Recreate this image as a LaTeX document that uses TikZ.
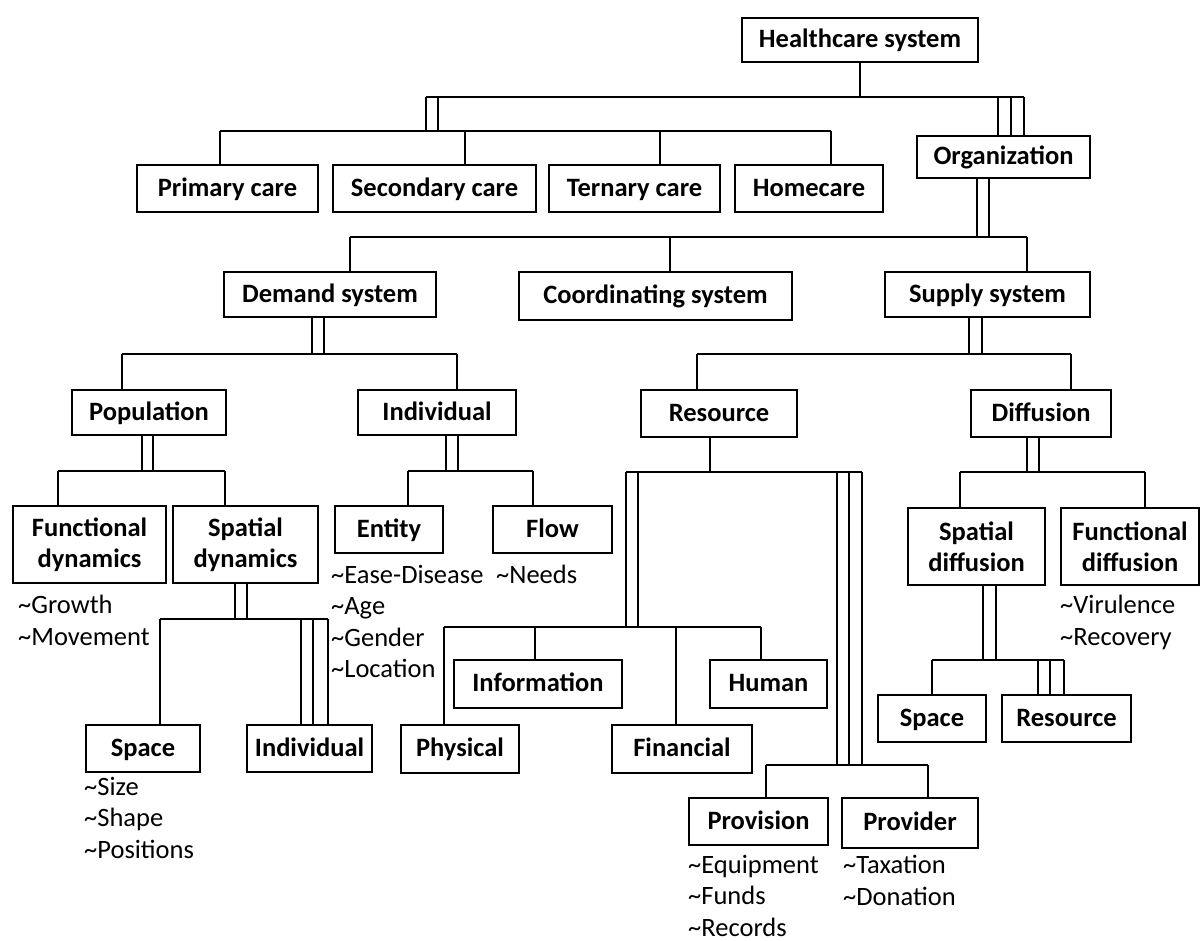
\documentclass[tikz,border=0pt]{standalone}
\usepackage{fontspec}
\setmainfont{Carlito}
\begin{document}
\begin{tikzpicture}[x=1pt,y=-1pt,
  box/.style={draw, line width=2pt, font=\fontsize{26.5}{31}\selectfont\bfseries, align=center, inner sep=0pt},
  one/.style={text height=18pt, text depth=3pt},
  conn/.style={line width=1.3pt},
  lst/.style={font=\fontsize{26.5}{31.5}\selectfont, align=left, anchor=north west, inner sep=0pt}]
\newcommand\bx[6]{\node[box,one,minimum width=#4pt,minimum height=#5pt] (#1) at (#2,#3) {#6};}
\newcommand\bxx[6]{\node[box,minimum width=#4pt,minimum height=#5pt] (#1) at (#2,#3) {#6};}
\useasboundingbox (0,0) rectangle (1204,940);
% boxes
\bx{hc}{860}{40}{236}{44}{Healthcare system}
\bx{prim}{227.5}{188.5}{181}{47}{Primary care}
\bx{sec}{434.5}{188.5}{203}{47}{Secondary care}
\bx{ter}{634.5}{188.5}{171}{47}{Ternary care}
\bx{home}{809}{188.5}{148}{47}{Homecare}
\bx{org}{1003.5}{157}{173}{42}{Organization}
\bx{dem}{330}{294.5}{212}{45}{Demand system}
\bx{coord}{655.5}{296}{273}{48}{Coordinating system}
\bx{sup}{987.5}{294.5}{205}{45}{Supply system}
\bx{pop}{149}{412.5}{154}{45}{Population}
\bx{ind}{437}{412.5}{158}{45}{Individual}
\bx{res}{719}{413.5}{156}{47}{Resource}
\bx{dif}{1041}{413.5}{140}{47}{Diffusion}
\bxx{fdyn}{89.5}{544.5}{153}{77}{Functional\\dynamics}
\bxx{sdyn}{245.5}{544.5}{145}{77}{Spatial\\dynamics}
\bx{ent}{389}{529.5}{108}{47}{Entity}
\bx{flow}{552.5}{529.5}{119}{47}{Flow}
\bxx{sdif}{976.5}{546.5}{137}{77}{Spatial\\diffusion}
\bxx{fdif}{1130}{546.5}{138}{77}{Functional\\diffusion}
\bx{info}{538}{684}{168}{48}{Information}
\bx{hum}{768.5}{684}{117}{48}{Human}
\bx{phys}{460}{749}{118}{48}{Physical}
\bx{fin}{682}{749}{140}{48}{Financial}
\bx{spL}{143}{748.5}{114}{47}{Space}
\bx{indL}{309.5}{748.5}{125}{47}{Individual}
\bx{spR}{932}{718.5}{108}{47}{Space}
\bx{resR}{1066.5}{718.5}{129}{47}{Resource}
\bx{prov}{758.5}{821.5}{139}{47}{Provision}
\bx{provr}{910}{823}{136}{50}{Provider}
% attribute lists
\node[lst] (fdynL) at (18,595) {\textasciitilde Growth\\\textasciitilde Movement};
\node[lst] (entL) at (331,565) {\textasciitilde Ease-Disease\\\textasciitilde Age\\\textasciitilde Gender\\\textasciitilde Location};
\node[lst] (flowL) at (496,565) {\textasciitilde Needs};
\node[lst] (fdifL) at (1060,595) {\textasciitilde Virulence\\\textasciitilde Recovery};
\node[lst] (spLL) at (84,777) {\textasciitilde Size\\\textasciitilde Shape\\\textasciitilde Positions};
\node[lst] (provL) at (688,855) {\textasciitilde Equipment\\\textasciitilde Funds\\\textasciitilde Records};
\node[lst] (provrL) at (843,855) {\textasciitilde Taxation\\\textasciitilde Donation};
% connectors
\begin{scope}[conn]
% healthcare
\coordinate (hcJ) at (860,97);
\coordinate (t1) at (426,97); \coordinate (t2) at (1024,97);
\draw (hc.south) -- (hcJ);
\draw (t1) -- (t2);
\foreach \x in {426,438} \draw (\x,97) -- (\x,131);
\foreach \x in {998,1011,1024} \draw (\x,97) -- (\x,97 |- org.north);
\coordinate (b1) at (220,131); \coordinate (b2) at (831,131);
\draw (b1) -- (b2);
\draw (b1) -- (b1 |- prim.north);
\draw (465,131) -- (465,131 |- sec.north);
\draw (660,131) -- (660,131 |- ter.north);
\draw (b2) -- (b2 |- home.north);
% organization
\foreach \x in {977,989} \draw (\x,237 |- org.south) -- (\x,237);
\coordinate (o1) at (350,237); \coordinate (o2) at (1027,237);
\draw (o1) -- (o2);
\draw (o1) -- (o1 |- dem.north);
\draw (670,237) -- (670,237 |- coord.north);
\draw (o2) -- (o2 |- sup.north);
% demand
\foreach \x in {312,324} \draw (\x,354 |- dem.south) -- (\x,354);
\coordinate (d1) at (122,354); \coordinate (d2) at (457,354);
\draw (d1) -- (d2);
\draw (d1) -- (d1 |- pop.north);
\draw (d2) -- (d2 |- ind.north);
% supply
\foreach \x in {969,982} \draw (\x,354 |- sup.south) -- (\x,354);
\coordinate (s1) at (697,354); \coordinate (s2) at (1071,354);
\draw (s1) -- (s2);
\draw (s1) -- (s1 |- res.north);
\draw (s2) -- (s2 |- dif.north);
% population
\foreach \x in {142,153} \draw (\x,471 |- pop.south) -- (\x,471);
\coordinate (p1) at (58,471); \coordinate (p2) at (225,471);
\draw (p1) -- (p2);
\draw (p1) -- (p1 |- fdyn.north);
\draw (p2) -- (p2 |- sdyn.north);
% individual
\foreach \x in {446,458} \draw (\x,471 |- ind.south) -- (\x,471);
\coordinate (i1) at (408,471); \coordinate (i2) at (533,471);
\draw (i1) -- (i2);
\draw (i1) -- (i1 |- ent.north);
\draw (i2) -- (i2 |- flow.north);
% resource
\draw (710,472 |- res.south) -- (710,472);
\coordinate (r1) at (626,472); \coordinate (r2) at (862,472);
\draw (r1) -- (r2);
\foreach \x in {626,638} \draw (\x,472) -- (\x,627);
\foreach \x in {837,849,862} \draw (\x,472) -- (\x,765);
\coordinate (q1) at (444,627); \coordinate (q2) at (761,627);
\draw (q1) -- (q2);
\draw (q1) -- (q1 |- phys.north);
\draw (535,627) -- (535,627 |- info.north);
\draw (676,627) -- (676,627 |- fin.north);
\draw (q2) -- (q2 |- hum.north);
\coordinate (v1) at (766,765); \coordinate (v2) at (928,765);
\draw (v1) -- (v2);
\draw (v1) -- (v1 |- prov.north);
\draw (v2) -- (v2 |- provr.north);
% diffusion
\foreach \x in {1027,1039} \draw (\x,472 |- dif.south) -- (\x,472);
\coordinate (f1) at (960,472); \coordinate (f2) at (1145,472);
\draw (f1) -- (f2);
\draw (f1) -- (f1 |- sdif.north);
\draw (f2) -- (f2 |- fdif.north);
% spatial dynamics
\foreach \x in {235,247} \draw (\x,619 |- sdyn.south) -- (\x,619);
\coordinate (g1) at (160,619); \coordinate (g2) at (328,619);
\draw (g1) -- (g2);
\draw (g1) -- (g1 |- spL.north);
\foreach \x in {301,313,328} \draw (\x,619) -- (\x,619 |- indL.north);
% spatial diffusion
\foreach \x in {983,996} \draw (\x,660 |- sdif.south) -- (\x,660);
\coordinate (h1) at (932,660); \coordinate (h2) at (1064,660);
\draw (h1) -- (h2);
\draw (h1) -- (h1 |- spR.north);
\foreach \x in {1038,1050,1064} \draw (\x,660) -- (\x,660 |- resR.north);
\end{scope}
\end{tikzpicture}
\end{document}
